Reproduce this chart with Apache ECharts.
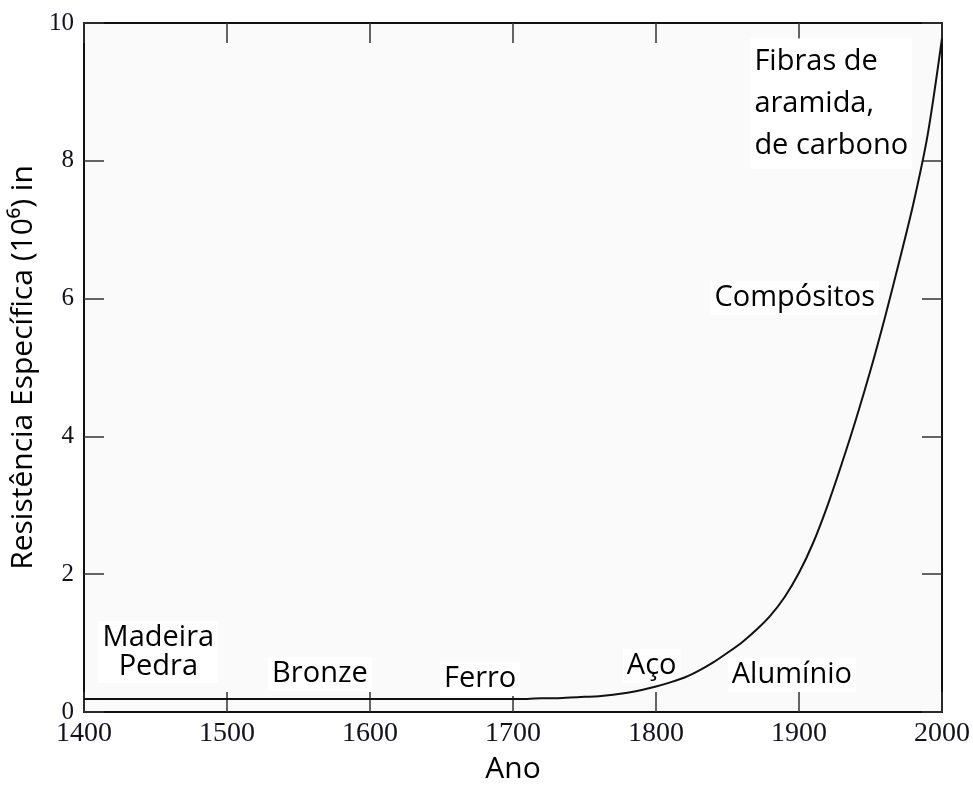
<!DOCTYPE html>
<html><head><meta charset="utf-8">
<script src="https://cdn.jsdelivr.net/npm/echarts@6/dist/echarts.min.js"></script>
<style>html,body{margin:0;padding:0;background:#fff}#c{width:973px;height:789px}</style>
</head><body><div id="c"></div>
<script>
// Curve: specific strength over time
const years    = [1400, 1500, 1600, 1700, 1710, 1720, 1730, 1740, 1750, 1760, 1770, 1780, 1790, 1800, 1810, 1820, 1830, 1840, 1850, 1860, 1870, 1880, 1890, 1900, 1910, 1920, 1930, 1940, 1950, 1960, 1970, 1980, 1990, 2000];
const strength = [0.19, 0.19, 0.19, 0.19, 0.19, 0.20, 0.20, 0.21, 0.22, 0.23, 0.25, 0.28, 0.32, 0.37, 0.43, 0.50, 0.60, 0.72, 0.86, 1.01, 1.19, 1.40, 1.67, 2.02, 2.46, 3.00, 3.61, 4.26, 4.96, 5.72, 6.53, 7.38, 8.38, 9.78];

// Material annotations (anchored in data coordinates)
const labelTexts  = ['Madeira\nPedra', 'Bronze', 'Ferro', 'Aço', 'Alumínio', 'Compósitos', 'Fibras de\naramida,\nde carbono'];
const labelYears  = [1452, 1565, 1677, 1797, 1895, 1897, 1866];
const labelValues = [0.87, 0.55, 0.48, 0.67, 0.54, 6.01, 8.83];
const labelAlign  = ['center', 'center', 'center', 'center', 'center', 'center', 'left'];
const labelLineH  = [29, 30, 30, 30, 30, 30, 42];

const xName = 'Ano';
const yName = 'Resistência Específica (10⁶) in';

const chart = echarts.init(document.getElementById('c'), null, {renderer: 'canvas'});
const serif = 'Liberation Serif';
const sans = 'Open Sans';
const frame = {show: true, onZero: false, lineStyle: {color: '#111', width: 2}};
const tick = {show: true, inside: true, length: 20, lineStyle: {color: '#333', width: 1.5}};

const annData = labelTexts.map((t, i) => ({
  value: [labelYears[i], labelValues[i]],
  label: {
    show: true, position: 'inside', formatter: t,
    align: labelAlign[i], verticalAlign: 'middle',
    fontFamily: sans, fontSize: 29, lineHeight: labelLineH[i], color: '#000', opacity: 1,
    backgroundColor: '#ffffff', padding: [2, 4]
  }
}));

chart.setOption({
  animation: false,
  backgroundColor: '#ffffff',
  grid: {left: 84, right: 29, top: 23, bottom: 76, show: true, backgroundColor: '#fafafa', borderWidth: 0},
  xAxis: [
    {type: 'value', min: 1400, max: 2000, interval: 100, position: 'bottom',
     axisLine: frame, axisTick: tick, splitLine: {show: false},
     axisLabel: {fontFamily: serif, fontSize: 28, color: '#111122', margin: 8, formatter: v => String(v)},
     name: xName, nameLocation: 'middle', nameGap: 42,
     nameTextStyle: {fontFamily: sans, fontSize: 30, color: '#000'}},
    {type: 'value', min: 1400, max: 2000, interval: 100, position: 'top',
     axisLine: frame, axisTick: tick, splitLine: {show: false}, axisLabel: {show: false}}
  ],
  yAxis: [
    {type: 'value', min: 0, max: 10, interval: 2, position: 'left',
     axisLine: frame, axisTick: tick, splitLine: {show: false},
     axisLabel: {fontFamily: serif, fontSize: 25, color: '#111122', margin: 10},
     name: yName, nameLocation: 'middle', nameGap: 46, nameRotate: 90,
     nameTextStyle: {fontFamily: sans, fontSize: 30, color: '#000'}},
    {type: 'value', min: 0, max: 10, interval: 2, position: 'right',
     axisLine: frame, axisTick: tick, splitLine: {show: false}, axisLabel: {show: false}}
  ],
  series: [
    {type: 'scatter', xAxisIndex: 0, yAxisIndex: 0, symbolSize: 0, itemStyle: {opacity: 1},
     data: annData, z: 2, silent: true},
    {type: 'line', xAxisIndex: 0, yAxisIndex: 0, data: years.map((y, i) => [y, strength[i]]),
     smooth: 0.3, showSymbol: false, symbol: 'none', z: 6,
     lineStyle: {color: '#111', width: 2}}
  ]
});
</script></body></html>
